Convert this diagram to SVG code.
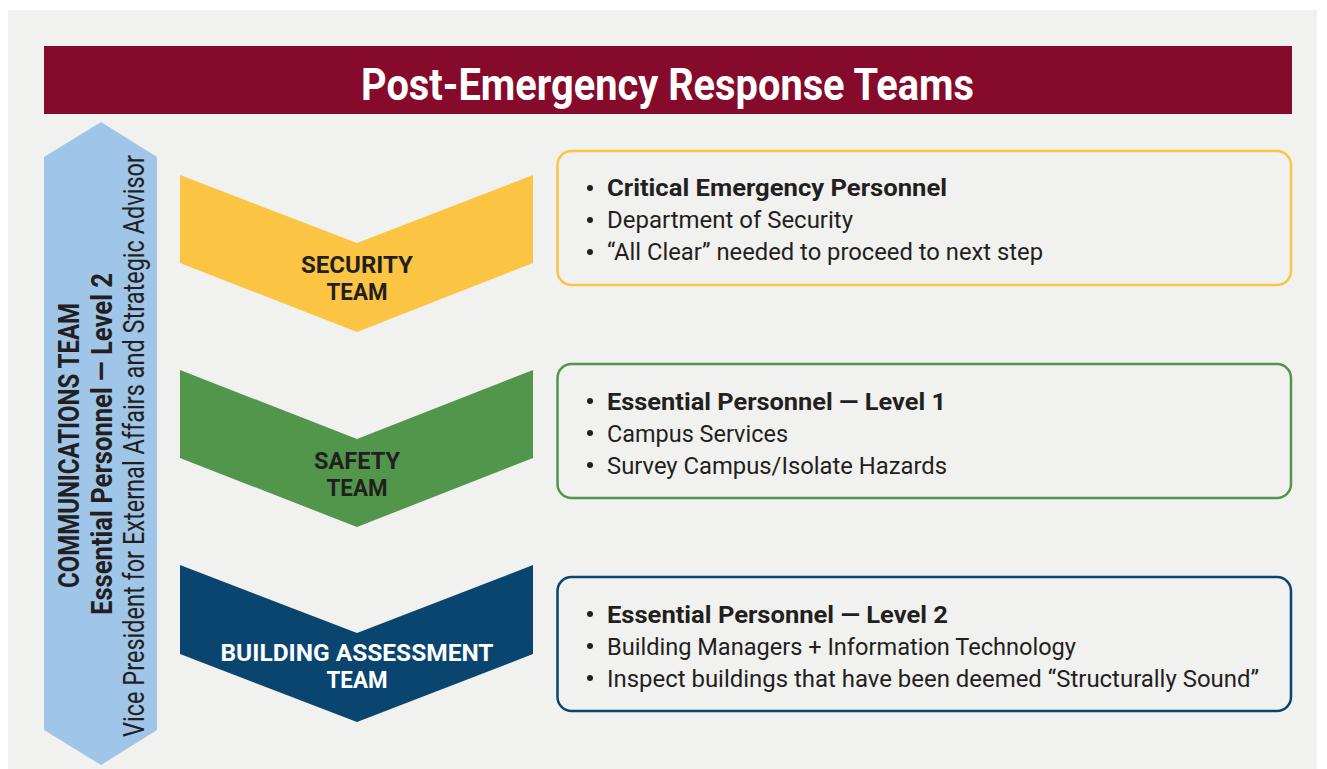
<svg xmlns="http://www.w3.org/2000/svg" width="1327" height="769" viewBox="0 0 1327 769">
<style>
.t{font-family:Roboto,"Liberation Sans",sans-serif;fill:#231f20}
.b{font-weight:bold}
.r{font-weight:normal}
.box{fill:none;stroke-width:2.5}
.bx{font-size:24px}
.ch{font-size:24px;font-weight:bold;text-anchor:middle}
.dot{fill:#231f20}
</style>
<rect x="0" y="0" width="1327" height="769" fill="#ffffff"/>
<rect x="8" y="10" width="1309" height="759" fill="#f1f1ef"/>
<g id="title">
<rect x="44" y="46" width="1248" height="68" fill="#850a2b"/>
<text x="667.5" y="100" text-anchor="middle" font-family="Roboto,'Liberation Sans',sans-serif" font-weight="bold" font-size="45" fill="#ffffff" textLength="613" lengthAdjust="spacingAndGlyphs">Post-Emergency Response Teams</text>
</g>
<g id="communications">
<polygon points="44,157 101,122 157,157 157,730 101,765 44,730" fill="#9fc5e8"/>
<text class="t b" font-size="29" text-anchor="middle" transform="translate(79,445.5) rotate(-90)" textLength="285" lengthAdjust="spacingAndGlyphs">COMMUNICATIONS TEAM</text>
<text class="t b" font-size="29" text-anchor="middle" transform="translate(112,444) rotate(-90)" textLength="342" lengthAdjust="spacingAndGlyphs">Essential Personnel — Level 2</text>
<text class="t r" font-size="29" text-anchor="middle" transform="translate(144,446) rotate(-90)" textLength="582" lengthAdjust="spacingAndGlyphs">Vice President for External Affairs and Strategic Advisor</text>
</g>
<g id="security">
<polygon points="180,175 357,243 533,175 533,263 357,332 180,263" fill="#fcc443"/>
<text class="t ch" x="357" y="273" textLength="112" lengthAdjust="spacingAndGlyphs">SECURITY</text>
<text class="t ch" x="357" y="300" textLength="61" lengthAdjust="spacingAndGlyphs">TEAM</text>
</g>
<g id="safety">
<polygon points="180,370 357,439 533,370 533,458 357,527 180,458" fill="#52964b"/>
<text class="t ch" x="357" y="469" textLength="86" lengthAdjust="spacingAndGlyphs">SAFETY</text>
<text class="t ch" x="357" y="496" textLength="61" lengthAdjust="spacingAndGlyphs">TEAM</text>
</g>
<g id="building">
<polygon points="180,565 357,633 533,565 533,654 357,722 180,654" fill="#0a4570"/>
<text class="ch" x="357" y="661" font-family="Roboto,'Liberation Sans',sans-serif" fill="#ffffff" textLength="273" lengthAdjust="spacingAndGlyphs">BUILDING ASSESSMENT</text>
<text class="ch" x="357" y="688" font-family="Roboto,'Liberation Sans',sans-serif" fill="#ffffff" textLength="61" lengthAdjust="spacingAndGlyphs">TEAM</text>
</g>
<g id="security-box">
<rect class="box" x="557.5" y="151" width="733.5" height="134" rx="14" stroke="#fcc443"/>
<circle class="dot" cx="590" cy="188" r="3"/>
<circle class="dot" cx="590" cy="220" r="3"/>
<circle class="dot" cx="590" cy="252" r="3"/>
<text class="t b bx" x="607" y="196" textLength="340" lengthAdjust="spacingAndGlyphs">Critical Emergency Personnel</text>
<text class="t r bx" x="607" y="228" textLength="246" lengthAdjust="spacingAndGlyphs">Department of Security</text>
<text class="t r bx" x="607" y="260" textLength="436" lengthAdjust="spacingAndGlyphs">“All Clear” needed to proceed to next step</text>
</g>
<g id="safety-box">
<rect class="box" x="557.5" y="364" width="733.5" height="134" rx="14" stroke="#52964b"/>
<circle class="dot" cx="590" cy="401" r="3"/>
<circle class="dot" cx="590" cy="433" r="3"/>
<circle class="dot" cx="590" cy="465" r="3"/>
<text class="t b bx" x="607" y="410" textLength="339" lengthAdjust="spacingAndGlyphs">Essential Personnel — Level 1</text>
<text class="t r bx" x="607" y="442" textLength="181" lengthAdjust="spacingAndGlyphs">Campus Services</text>
<text class="t r bx" x="607" y="474" textLength="340" lengthAdjust="spacingAndGlyphs">Survey Campus/Isolate Hazards</text>
</g>
<g id="building-box">
<rect class="box" x="557.5" y="577" width="733.5" height="134" rx="14" stroke="#0a4570"/>
<circle class="dot" cx="590" cy="614" r="3"/>
<circle class="dot" cx="590" cy="646" r="3"/>
<circle class="dot" cx="590" cy="678" r="3"/>
<text class="t b bx" x="607" y="623" textLength="341" lengthAdjust="spacingAndGlyphs">Essential Personnel — Level 2</text>
<text class="t r bx" x="607" y="655" textLength="469" lengthAdjust="spacingAndGlyphs">Building Managers + Information Technology</text>
<text class="t r bx" x="607" y="687" textLength="652" lengthAdjust="spacingAndGlyphs">Inspect buildings that have been deemed “Structurally Sound”</text>
</g>
<g id="connectors"></g>
</svg>
